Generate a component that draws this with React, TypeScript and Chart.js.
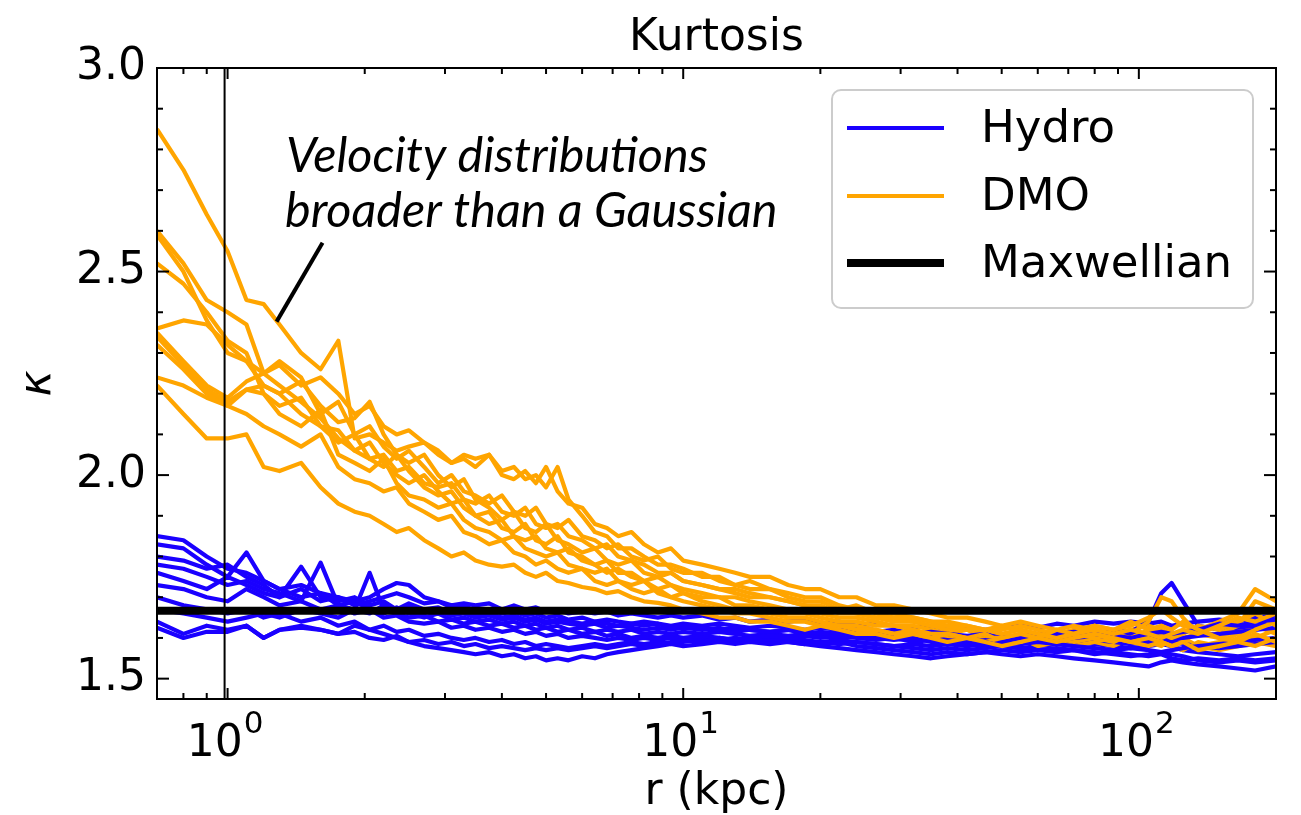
import { useEffect, useRef } from 'react';
import { Chart, registerables } from 'chart.js';

Chart.register(...registerables);

// radial bins (kpc)
const R = [
  0.7, 0.8, 0.9, 1.0, 1.1, 1.2, 1.3, 1.45, 1.6, 1.75,
  1.9, 2.05, 2.2, 2.35, 2.5, 2.7, 2.9, 3.1, 3.3, 3.5,
  3.75, 4.0, 4.25, 4.5, 4.75, 5.0, 5.3, 5.6, 6.0, 6.4,
  6.8, 7.2, 7.7, 8.2, 8.8, 9.4, 10, 11, 12, 13,
  14, 15.5, 17, 18.5, 20, 22, 24, 26.5, 29, 32,
  35, 38, 42, 46, 50, 55, 60, 66, 72, 80,
  88, 96, 105, 112, 118, 125, 135, 150, 165, 180, 200,
];

const DMO_1 = [
  2.85, 2.75, 2.64, 2.55, 2.43, 2.42, 2.37, 2.30, 2.26, 2.33,
  2.09, 2.10, 2.08, 2.06, 2.07, 2.08, 2.05, 2.03, 2.04, 2.02,
  2.05, 2.00, 1.99, 2.01, 1.98, 2.02, 1.96, 1.93, 1.92, 1.88,
  1.87, 1.85, 1.86, 1.83, 1.81, 1.82, 1.79, 1.78, 1.77, 1.76,
  1.75, 1.75, 1.73, 1.72, 1.72, 1.70, 1.70, 1.68, 1.68, 1.67,
  1.66, 1.65, 1.65, 1.64, 1.63, 1.64, 1.63, 1.62, 1.63, 1.62,
  1.61, 1.62, 1.63, 1.62, 1.61, 1.60, 1.61, 1.60, 1.62, 1.63, 1.61,
];
const DMO_2 = [
  2.60, 2.52, 2.43, 2.40, 2.37, 2.25, 2.28, 2.24, 2.15, 2.18,
  2.10, 2.12, 2.07, 2.04, 2.06, 2.02, 1.98, 2.00, 1.96, 1.95,
  1.93, 1.95, 1.91, 1.90, 1.92, 1.88, 1.87, 1.89, 1.85, 1.84,
  1.82, 1.83, 1.80, 1.79, 1.80, 1.77, 1.76, 1.76, 1.74, 1.73,
  1.74, 1.72, 1.71, 1.70, 1.70, 1.68, 1.67, 1.67, 1.66, 1.65,
  1.64, 1.64, 1.63, 1.62, 1.63, 1.62, 1.61, 1.62, 1.60, 1.61,
  1.60, 1.59, 1.61, 1.60, 1.59, 1.60, 1.58, 1.59, 1.61, 1.60, 1.62,
];
const DMO_3 = [
  2.59, 2.50, 2.38, 2.30, 2.28, 2.22, 2.20, 2.23, 2.17, 2.13,
  2.14, 2.18, 2.10, 2.05, 2.03, 2.05, 2.00, 1.97, 1.99, 1.94,
  1.92, 1.89, 1.91, 1.87, 1.86, 1.88, 1.84, 1.83, 1.81, 1.82,
  1.79, 1.78, 1.79, 1.76, 1.75, 1.76, 1.74, 1.73, 1.72, 1.71,
  1.70, 1.70, 1.69, 1.68, 1.67, 1.67, 1.66, 1.65, 1.64, 1.64,
  1.63, 1.62, 1.62, 1.61, 1.60, 1.61, 1.60, 1.59, 1.60, 1.59,
  1.58, 1.60, 1.59, 1.58, 1.60, 1.59, 1.58, 1.57, 1.58, 1.59, 1.58,
];
const DMO_4 = [
  2.52, 2.47, 2.40, 2.33, 2.30, 2.20, 2.17, 2.19, 2.12, 2.08,
  2.10, 2.04, 2.02, 2.05, 2.01, 1.97, 1.95, 1.96, 1.92, 1.90,
  1.91, 1.87, 1.86, 1.88, 1.84, 1.83, 1.85, 1.81, 1.80, 1.78,
  1.79, 1.76, 1.76, 1.74, 1.75, 1.73, 1.72, 1.71, 1.70, 1.70,
  1.69, 1.68, 1.67, 1.67, 1.66, 1.65, 1.65, 1.64, 1.63, 1.63,
  1.62, 1.61, 1.62, 1.60, 1.61, 1.60, 1.59, 1.60, 1.59, 1.60,
  1.59, 1.61, 1.64, 1.70, 1.69, 1.65, 1.61, 1.61, 1.63, 1.69, 1.67,
];
const DMO_5 = [
  2.36, 2.38, 2.37, 2.32, 2.28, 2.25, 2.27, 2.22, 2.24, 2.20,
  2.15, 2.17, 2.12, 2.10, 2.11, 2.08, 2.06, 2.03, 2.05, 2.04,
  2.05, 2.01, 2.02, 1.99, 2.00, 1.97, 2.02, 1.94, 1.90, 1.86,
  1.85, 1.82, 1.82, 1.80, 1.78, 1.78, 1.77, 1.75, 1.75, 1.73,
  1.72, 1.72, 1.70, 1.69, 1.69, 1.67, 1.68, 1.66, 1.65, 1.65,
  1.64, 1.63, 1.63, 1.62, 1.62, 1.63, 1.62, 1.61, 1.62, 1.63,
  1.62, 1.63, 1.65, 1.67, 1.65, 1.63, 1.62, 1.64, 1.66, 1.72, 1.69,
];
const DMO_6 = [
  2.35, 2.28, 2.22, 2.19, 2.23, 2.25, 2.22, 2.18, 2.14, 2.09,
  2.06, 2.08, 2.03, 2.00, 1.98, 2.00, 1.96, 1.93, 1.94, 1.90,
  1.88, 1.89, 1.85, 1.84, 1.85, 1.82, 1.81, 1.82, 1.79, 1.78,
  1.76, 1.77, 1.75, 1.74, 1.72, 1.73, 1.71, 1.70, 1.70, 1.68,
  1.68, 1.67, 1.66, 1.66, 1.65, 1.64, 1.64, 1.63, 1.63, 1.62,
  1.61, 1.61, 1.60, 1.61, 1.59, 1.60, 1.58, 1.59, 1.58, 1.59,
  1.60, 1.59, 1.58, 1.59, 1.58, 1.57, 1.59, 1.58, 1.60, 1.62, 1.64,
];
const DMO_7 = [
  2.34, 2.27, 2.21, 2.18, 2.21, 2.20, 2.15, 2.12, 2.16, 2.05,
  2.03, 2.01, 2.04, 1.98, 1.95, 1.94, 1.92, 1.93, 1.89, 1.87,
  1.86, 1.84, 1.85, 1.82, 1.81, 1.80, 1.81, 1.78, 1.77, 1.76,
  1.77, 1.74, 1.73, 1.74, 1.71, 1.70, 1.71, 1.69, 1.68, 1.67,
  1.67, 1.66, 1.65, 1.65, 1.64, 1.63, 1.63, 1.62, 1.61, 1.62,
  1.60, 1.60, 1.59, 1.60, 1.60, 1.59, 1.61, 1.60, 1.61, 1.60,
  1.61, 1.60, 1.62, 1.61, 1.60, 1.61, 1.63, 1.62, 1.64, 1.66, 1.63,
];
const DMO_8 = [
  2.32, 2.26, 2.20, 2.17, 2.15, 2.12, 2.10, 2.07, 2.10, 2.02,
  1.99, 1.98, 1.96, 1.97, 1.93, 1.91, 1.89, 1.90, 1.86, 1.85,
  1.83, 1.84, 1.81, 1.80, 1.78, 1.79, 1.77, 1.76, 1.77, 1.74,
  1.73, 1.74, 1.72, 1.71, 1.72, 1.70, 1.69, 1.68, 1.67, 1.66,
  1.66, 1.65, 1.64, 1.64, 1.63, 1.63, 1.62, 1.62, 1.61, 1.61,
  1.60, 1.61, 1.60, 1.59, 1.60, 1.61, 1.60, 1.62, 1.61, 1.63,
  1.62, 1.64, 1.62, 1.63, 1.62, 1.64, 1.62, 1.60, 1.59, 1.58, 1.60,
];
const DMO_9 = [
  2.24, 2.22, 2.19, 2.17, 2.21, 2.22, 2.20, 2.15, 2.12, 2.11,
  2.06, 2.04, 2.05, 2.01, 2.02, 1.98, 1.97, 1.98, 1.94, 1.93,
  1.95, 1.91, 1.90, 1.92, 1.88, 1.87, 1.88, 1.85, 1.84, 1.82,
  1.83, 1.80, 1.79, 1.78, 1.76, 1.76, 1.74, 1.73, 1.72, 1.72,
  1.71, 1.70, 1.69, 1.68, 1.68, 1.66, 1.66, 1.65, 1.65, 1.64,
  1.63, 1.63, 1.62, 1.62, 1.61, 1.62, 1.61, 1.60, 1.61, 1.62,
  1.61, 1.62, 1.61, 1.60, 1.61, 1.62, 1.61, 1.63, 1.65, 1.64, 1.66,
];
const DMO_10 = [
  2.22, 2.15, 2.09, 2.09, 2.10, 2.02, 2.01, 2.03, 1.97, 1.93,
  1.91, 1.90, 1.88, 1.86, 1.87, 1.84, 1.82, 1.80, 1.81, 1.79,
  1.78, 1.775, 1.78, 1.76, 1.75, 1.76, 1.74, 1.735, 1.725, 1.72,
  1.71, 1.715, 1.70, 1.69, 1.686, 1.68, 1.67, 1.66, 1.65, 1.65,
  1.64, 1.64, 1.63, 1.62, 1.63, 1.62, 1.61, 1.61, 1.60, 1.61,
  1.60, 1.59, 1.60, 1.59, 1.58, 1.59, 1.60, 1.59, 1.60, 1.61,
  1.60, 1.59, 1.60, 1.59, 1.58, 1.59, 1.57, 1.58, 1.59, 1.61, 1.59,
];

const HYDRO_1 = [
  1.85, 1.84, 1.80, 1.77, 1.76, 1.74, 1.72, 1.73, 1.71, 1.70,
  1.69, 1.70, 1.72, 1.735, 1.73, 1.70, 1.69, 1.68, 1.685, 1.68,
  1.685, 1.67, 1.68, 1.67, 1.675, 1.665, 1.67, 1.66, 1.665, 1.66,
  1.665, 1.655, 1.66, 1.655, 1.65, 1.655, 1.65, 1.655, 1.645, 1.65,
  1.64, 1.645, 1.64, 1.645, 1.635, 1.64, 1.63, 1.635, 1.63, 1.625,
  1.63, 1.62, 1.625, 1.62, 1.625, 1.63, 1.625, 1.635, 1.63, 1.64,
  1.635, 1.64, 1.635, 1.64, 1.63, 1.635, 1.64, 1.645, 1.64, 1.65, 1.655,
];
const HYDRO_2 = [
  1.83, 1.82, 1.78, 1.75, 1.81, 1.74, 1.72, 1.70, 1.71, 1.68,
  1.69, 1.67, 1.66, 1.675, 1.66, 1.65, 1.66, 1.645, 1.65, 1.64,
  1.645, 1.635, 1.64, 1.63, 1.635, 1.625, 1.63, 1.62, 1.625, 1.615,
  1.62, 1.615, 1.62, 1.61, 1.615, 1.61, 1.615, 1.61, 1.615, 1.61,
  1.605, 1.61, 1.605, 1.61, 1.605, 1.60, 1.605, 1.60, 1.595, 1.60,
  1.59, 1.585, 1.59, 1.58, 1.585, 1.59, 1.595, 1.60, 1.59, 1.585,
  1.58, 1.575, 1.58, 1.585, 1.58, 1.57, 1.565, 1.56, 1.555, 1.56, 1.565,
];
const HYDRO_3 = [
  1.80, 1.79, 1.77, 1.78, 1.75, 1.73, 1.70, 1.775, 1.70, 1.69,
  1.70, 1.68, 1.69, 1.67, 1.68, 1.665, 1.67, 1.655, 1.66, 1.65,
  1.655, 1.645, 1.65, 1.64, 1.645, 1.635, 1.64, 1.635, 1.63, 1.635,
  1.625, 1.63, 1.625, 1.62, 1.625, 1.62, 1.625, 1.62, 1.625, 1.615,
  1.62, 1.615, 1.62, 1.61, 1.615, 1.61, 1.615, 1.605, 1.61, 1.605,
  1.60, 1.605, 1.60, 1.595, 1.60, 1.605, 1.61, 1.605, 1.615, 1.61,
  1.62, 1.615, 1.64, 1.71, 1.735, 1.69, 1.63, 1.62, 1.625, 1.63, 1.64,
];
const HYDRO_4 = [
  1.78, 1.77, 1.75, 1.73, 1.74, 1.72, 1.71, 1.69, 1.785, 1.68,
  1.67, 1.76, 1.67, 1.66, 1.65, 1.655, 1.64, 1.645, 1.635, 1.64,
  1.63, 1.635, 1.625, 1.63, 1.62, 1.625, 1.615, 1.62, 1.61, 1.615,
  1.605, 1.61, 1.60, 1.605, 1.60, 1.605, 1.60, 1.605, 1.60, 1.595,
  1.60, 1.595, 1.60, 1.595, 1.59, 1.595, 1.59, 1.585, 1.58, 1.575,
  1.57, 1.575, 1.57, 1.575, 1.58, 1.575, 1.58, 1.585, 1.59, 1.595,
  1.59, 1.585, 1.59, 1.595, 1.59, 1.585, 1.58, 1.575, 1.58, 1.585, 1.59,
];
const HYDRO_5 = [
  1.76, 1.74, 1.72, 1.75, 1.73, 1.71, 1.70, 1.72, 1.69, 1.70,
  1.68, 1.69, 1.70, 1.71, 1.70, 1.685, 1.69, 1.675, 1.68, 1.665,
  1.67, 1.66, 1.665, 1.655, 1.66, 1.65, 1.655, 1.645, 1.65, 1.64,
  1.645, 1.64, 1.635, 1.64, 1.635, 1.63, 1.635, 1.63, 1.635, 1.63,
  1.625, 1.63, 1.625, 1.62, 1.625, 1.62, 1.62, 1.615, 1.62, 1.61,
  1.615, 1.61, 1.605, 1.61, 1.60, 1.605, 1.60, 1.595, 1.60, 1.605,
  1.60, 1.61, 1.605, 1.60, 1.595, 1.60, 1.605, 1.61, 1.615, 1.62, 1.625,
];
const HYDRO_6 = [
  1.73, 1.72, 1.70, 1.69, 1.72, 1.70, 1.68, 1.69, 1.67, 1.68,
  1.66, 1.67, 1.65, 1.655, 1.64, 1.635, 1.64, 1.625, 1.63, 1.62,
  1.625, 1.615, 1.62, 1.61, 1.615, 1.605, 1.61, 1.60, 1.605, 1.60,
  1.595, 1.60, 1.595, 1.60, 1.595, 1.60, 1.595, 1.60, 1.595, 1.60,
  1.595, 1.59, 1.595, 1.59, 1.585, 1.59, 1.58, 1.575, 1.57, 1.565,
  1.56, 1.565, 1.56, 1.565, 1.57, 1.565, 1.57, 1.575, 1.57, 1.565,
  1.56, 1.555, 1.56, 1.565, 1.56, 1.555, 1.545, 1.54, 1.545, 1.54, 1.545,
];
const HYDRO_7 = [
  1.70, 1.68, 1.67, 1.66, 1.67, 1.65, 1.66, 1.64, 1.65, 1.63,
  1.64, 1.62, 1.63, 1.615, 1.62, 1.605, 1.61, 1.60, 1.595, 1.60,
  1.59, 1.595, 1.585, 1.59, 1.58, 1.585, 1.58, 1.575, 1.58, 1.585,
  1.58, 1.585, 1.59, 1.585, 1.59, 1.585, 1.59, 1.595, 1.59, 1.595,
  1.59, 1.595, 1.59, 1.585, 1.59, 1.585, 1.59, 1.585, 1.58, 1.585,
  1.58, 1.585, 1.58, 1.585, 1.59, 1.585, 1.59, 1.585, 1.58, 1.575,
  1.57, 1.575, 1.57, 1.565, 1.57, 1.575, 1.58, 1.585, 1.59, 1.595, 1.60,
];
const HYDRO_8 = [
  1.67, 1.66, 1.65, 1.64, 1.65, 1.66, 1.65, 1.67, 1.66, 1.65,
  1.67, 1.66, 1.68, 1.67, 1.685, 1.67, 1.675, 1.66, 1.665, 1.655,
  1.66, 1.65, 1.655, 1.645, 1.65, 1.64, 1.645, 1.64, 1.635, 1.64,
  1.635, 1.63, 1.635, 1.63, 1.635, 1.625, 1.63, 1.625, 1.62, 1.625,
  1.62, 1.615, 1.62, 1.615, 1.61, 1.615, 1.605, 1.61, 1.60, 1.595,
  1.60, 1.595, 1.59, 1.595, 1.59, 1.60, 1.605, 1.61, 1.615, 1.61,
  1.605, 1.60, 1.61, 1.615, 1.61, 1.615, 1.62, 1.635, 1.63, 1.64, 1.645,
];
const HYDRO_9 = [
  1.64, 1.61, 1.63, 1.62, 1.63, 1.60, 1.62, 1.63, 1.62, 1.61,
  1.63, 1.62, 1.61, 1.60, 1.59, 1.58, 1.575, 1.57, 1.565, 1.56,
  1.565, 1.555, 1.56, 1.55, 1.555, 1.545, 1.55, 1.545, 1.555, 1.55,
  1.56, 1.565, 1.57, 1.575, 1.58, 1.585, 1.58, 1.585, 1.59, 1.585,
  1.59, 1.585, 1.59, 1.585, 1.58, 1.575, 1.57, 1.565, 1.56, 1.555,
  1.55, 1.555, 1.56, 1.565, 1.56, 1.555, 1.56, 1.555, 1.55, 1.545,
  1.54, 1.535, 1.53, 1.54, 1.545, 1.54, 1.535, 1.53, 1.525, 1.52, 1.53,
];
const HYDRO_10 = [
  1.625, 1.60, 1.615, 1.615, 1.63, 1.60, 1.62, 1.625, 1.62, 1.61,
  1.615, 1.60, 1.595, 1.605, 1.59, 1.595, 1.585, 1.59, 1.58, 1.585,
  1.575, 1.58, 1.575, 1.57, 1.575, 1.57, 1.575, 1.57, 1.575, 1.58,
  1.575, 1.58, 1.585, 1.58, 1.585, 1.59, 1.595, 1.59, 1.60, 1.595,
  1.60, 1.605, 1.60, 1.605, 1.60, 1.605, 1.60, 1.595, 1.60, 1.59,
  1.595, 1.59, 1.585, 1.59, 1.58, 1.575, 1.57, 1.565, 1.57, 1.56,
  1.565, 1.56, 1.555, 1.56, 1.55, 1.545, 1.55, 1.545, 1.55, 1.545, 1.55,
];

const HYDRO = [HYDRO_1, HYDRO_2, HYDRO_3, HYDRO_4, HYDRO_5, HYDRO_6, HYDRO_7, HYDRO_8, HYDRO_9, HYDRO_10];
const DMO = [DMO_1, DMO_2, DMO_3, DMO_4, DMO_5, DMO_6, DMO_7, DMO_8, DMO_9, DMO_10];

const MAXWELL_R = [0.7, 200];
const MAXWELL_K = [1.667, 1.667];
const VLINE_R = [0.985, 0.985];
const VLINE_K = [1.45, 3.0];
const ARROW_R = [1.616, 1.281];
const ARROW_K = [2.571, 2.377];

const X_MAJOR = [1, 10, 100];
const X_EXPONENTS = ['0', '1', '2'];
const X_MINOR = [0.7, 0.8, 0.9, 2, 3, 4, 5, 6, 7, 8, 9, 20, 30, 40, 50, 60, 70, 80, 90, 200];
const Y_MAJOR = [1.5, 2.0, 2.5, 3.0];
const Y_MINOR = [1.6, 1.7, 1.8, 1.9, 2.1, 2.2, 2.3, 2.4, 2.6, 2.7, 2.8, 2.9];

const TITLE = 'Kurtosis';
const X_TITLE = 'r (kpc)';
const Y_TITLE = 'κ';
const ANNOTATION = ['Velocity distributions', 'broader than a Gaussian'];

const BLUE = '#1a00ff';
const ORANGE = '#ffa500';
const BLACK = '#000000';

const LEGEND_ITEMS = [
  { label: 'Hydro', color: BLUE, width: 4 },
  { label: 'DMO', color: ORANGE, width: 4 },
  { label: 'Maxwellian', color: BLACK, width: 8 },
];

const FONT = 'DejaVu Sans';

const pts = (xs: number[], ys: number[]) => xs.map((x, i) => ({ x, y: ys[i] }));

const decorPlugin = {
  id: 'decor',
  afterDraw(chart: any) {
    const { ctx, chartArea: a, scales } = chart;
    const x = scales.x;
    const y = scales.y;
    ctx.save();
    ctx.strokeStyle = BLACK;
    ctx.lineWidth = 2;
    const seg = (x1: number, y1: number, x2: number, y2: number) => {
      ctx.beginPath();
      ctx.moveTo(x1, y1);
      ctx.lineTo(x2, y2);
      ctx.stroke();
    };
    const xt = (vals: number[], len: number) =>
      vals.forEach((v) => {
        const p = x.getPixelForValue(v);
        seg(p, a.bottom, p, a.bottom - len);
        seg(p, a.top, p, a.top + len);
      });
    const yt = (vals: number[], len: number) =>
      vals.forEach((v) => {
        const p = y.getPixelForValue(v);
        seg(a.left, p, a.left + len, p);
        seg(a.right, p, a.right - len, p);
      });
    xt(X_MAJOR, 11);
    xt(X_MINOR, 6);
    yt(Y_MAJOR, 12);
    yt(Y_MINOR, 6);
    ctx.strokeRect(a.left, a.top, a.right - a.left, a.bottom - a.top);

    ctx.fillStyle = BLACK;
    ctx.textBaseline = 'alphabetic';

    // x tick labels: 10 with superscript exponent
    X_MAJOR.forEach((v, i) => {
      const p = x.getPixelForValue(v);
      ctx.font = `44px "${FONT}"`;
      const wb = ctx.measureText('10').width;
      ctx.font = `31px "${FONT}"`;
      const we = ctx.measureText(X_EXPONENTS[i]).width;
      const x0 = p - (wb + we) / 2 - 3;
      ctx.textAlign = 'left';
      ctx.font = `44px "${FONT}"`;
      ctx.fillText('10', x0, 756);
      ctx.font = `31px "${FONT}"`;
      ctx.fillText(X_EXPONENTS[i], x0 + wb + 1, 733);
    });

    // title
    ctx.font = `44px "${FONT}"`;
    ctx.textAlign = 'center';
    ctx.fillText(TITLE, (a.left + a.right) / 2, 50);

    // annotation
    ctx.font = 'italic 40px Lato';
    const w = ctx.measureText(ANNOTATION[1]).width;
    const size = (40 * 493) / w;
    ctx.font = `italic ${size.toFixed(1)}px Lato`;
    ctx.textAlign = 'left';
    ctx.fillText(ANNOTATION[0], 286, 172);
    ctx.fillText(ANNOTATION[1], 285, 227);

    // legend
    const bx = 832, by = 90, bw = 421, bh = 218, r = 9;
    ctx.beginPath();
    ctx.moveTo(bx + r, by);
    ctx.arcTo(bx + bw, by, bx + bw, by + bh, r);
    ctx.arcTo(bx + bw, by + bh, bx, by + bh, r);
    ctx.arcTo(bx, by + bh, bx, by, r);
    ctx.arcTo(bx, by, bx + bw, by, r);
    ctx.closePath();
    ctx.fillStyle = 'rgba(255,255,255,0.8)';
    ctx.fill();
    ctx.strokeStyle = '#cccccc';
    ctx.lineWidth = 2;
    ctx.stroke();
    const rowsY = [128, 196, 263];
    ctx.font = `45px "${FONT}"`;
    ctx.textBaseline = 'middle';
    LEGEND_ITEMS.forEach((it, i) => {
      ctx.strokeStyle = it.color;
      ctx.lineWidth = it.width;
      seg(847, rowsY[i], 944, rowsY[i]);
      ctx.fillStyle = BLACK;
      ctx.fillText(it.label, 981, rowsY[i] + 2);
    });
    ctx.restore();
  },
};

export default function App() {
  const ref = useRef<HTMLCanvasElement | null>(null);
  useEffect(() => {
    if (!ref.current) return;
    const curves: any[] = [];
    for (let i = HYDRO.length - 1; i >= 0; i--) {
      curves.push({
        label: 'DMO ' + (i + 1),
        data: pts(R, DMO[i]),
        borderColor: ORANGE,
        borderWidth: 4.2,
      });
      curves.push({
        label: 'Hydro ' + (i + 1),
        data: pts(R, HYDRO[i]),
        borderColor: BLUE,
        borderWidth: 4.2,
      });
    }
    const datasets: any[] = [
      { label: 'arrow', data: pts(ARROW_R, ARROW_K), borderColor: BLACK, borderWidth: 4 },
      { label: 'Maxwellian', data: pts(MAXWELL_R, MAXWELL_K), borderColor: BLACK, borderWidth: 8 },
      { label: 'r=1', data: pts(VLINE_R, VLINE_K), borderColor: BLACK, borderWidth: 2 },
      ...curves,
    ].map((d) => ({
      ...d,
      pointRadius: 0,
      pointHoverRadius: 0,
      tension: 0,
      fill: false,
      borderJoinStyle: 'round',
      borderCapStyle: 'butt',
      clip: 0,
    }));

    const tickFont = { family: FONT, size: 44, lineHeight: 1.2 };
    const chart = new Chart(ref.current, {
      type: 'line',
      data: { datasets },
      options: {
        animation: false,
        responsive: false,
        devicePixelRatio: 1,
        events: [],
        layout: { padding: { top: 68, right: 25, left: 0, bottom: 0 } },
        plugins: { legend: { display: false }, title: { display: false }, tooltip: { enabled: false } },
        scales: {
          x: {
            type: 'logarithmic',
            min: 0.7,
            max: 200,
            grid: { display: false, drawTicks: false },
            border: { display: false },
            afterBuildTicks: (s: any) => {
              s.ticks = X_MAJOR.map((v) => ({ value: v }));
            },
            afterFit: (s: any) => {
              s.height = 116;
            },
            ticks: { display: false },
            title: {
              display: true,
              text: X_TITLE,
              font: { family: FONT, size: 44, lineHeight: 1.0 },
              color: BLACK,
              padding: { top: 0, bottom: 0 },
            },
          },
          y: {
            type: 'linear',
            min: 1.45,
            max: 3.0,
            grid: { display: false, drawTicks: false },
            border: { display: false },
            afterBuildTicks: (s: any) => {
              s.ticks = Y_MAJOR.map((v) => ({ value: v }));
            },
            afterFit: (s: any) => {
              s.width = 157;
            },
            ticks: {
              callback: (v: any) => Number(v).toFixed(1),
              font: tickFont,
              color: BLACK,
              padding: 11,
              autoSkip: false,
            },
            title: {
              display: true,
              text: Y_TITLE,
              font: { family: FONT, size: 44, lineHeight: 1.2, style: 'italic' },
              color: BLACK,
              padding: { top: 12, bottom: 0 },
            },
          },
        },
      },
      plugins: [decorPlugin],
    } as any);
    return () => chart.destroy();
  }, []);

  return (
    <div style={{ position: 'fixed', left: 0, top: 0, width: 1301, height: 815, background: '#fff' }}>
      <canvas ref={ref} width={1301} height={815} style={{ display: 'block', width: 1301, height: 815 }} />
    </div>
  );
}
